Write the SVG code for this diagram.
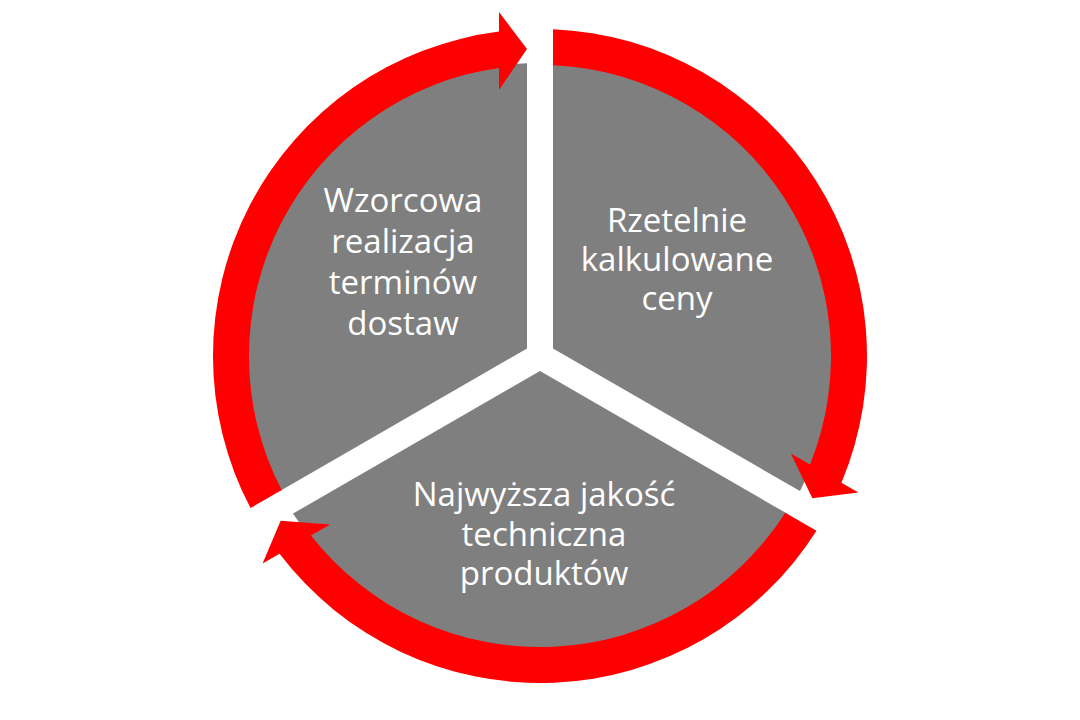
<svg xmlns="http://www.w3.org/2000/svg" xmlns:xlink="http://www.w3.org/1999/xlink" width="1080" height="720" viewBox="0 0 1080 720">
  <style>
    .slice { fill: #7f7f7f; }
    .arrow { fill: #ff0000; }
    .label { font-family: "Open Sans", "Liberation Sans", sans-serif; font-size: 33px; fill: #ffffff; text-anchor: middle; }
  </style>
  <defs>
    <path id="slice" d="M 553 348.5 L 553 63.3 A 293 293 0 0 1 800 491.1 Z"/>
    <path id="arrow" d="M 250.5 508.1 A 327 327 0 0 1 499 31.6 L 499 12 L 527 49 L 499 90 L 499 67.9 A 291 291 0 0 0 281.7 490.1 Z"/>
  </defs>
  <rect x="0" y="0" width="1080" height="720" fill="#ffffff"/>

  <g id="node-rzetelnie">
    <use xlink:href="#slice" href="#slice" class="slice"/>
    <text class="label"><tspan x="677" y="232">Rzetelnie</tspan><tspan x="677" y="271">kalkulowane</tspan><tspan x="677" y="310">ceny</tspan></text>
  </g>

  <g id="node-jakosc">
    <use xlink:href="#slice" href="#slice" class="slice" transform="rotate(120 540 356)"/>
    <text class="label"><tspan x="544" y="506">Najwyższa jakość</tspan><tspan x="544" y="546">techniczna</tspan><tspan x="544" y="585">produktów</tspan></text>
  </g>

  <g id="node-terminy">
    <use xlink:href="#slice" href="#slice" class="slice" transform="rotate(240 540 356)"/>
    <text class="label"><tspan x="403" y="212">Wzorcowa</tspan><tspan x="403" y="253">realizacja</tspan><tspan x="403" y="294">terminów</tspan><tspan x="403" y="335">dostaw</tspan></text>
  </g>

  <g id="connectors">
    <use xlink:href="#arrow" href="#arrow" class="arrow"/>
    <use xlink:href="#arrow" href="#arrow" class="arrow" transform="rotate(120 540 356)"/>
    <use xlink:href="#arrow" href="#arrow" class="arrow" transform="rotate(240 540 356)"/>
  </g>
</svg>
